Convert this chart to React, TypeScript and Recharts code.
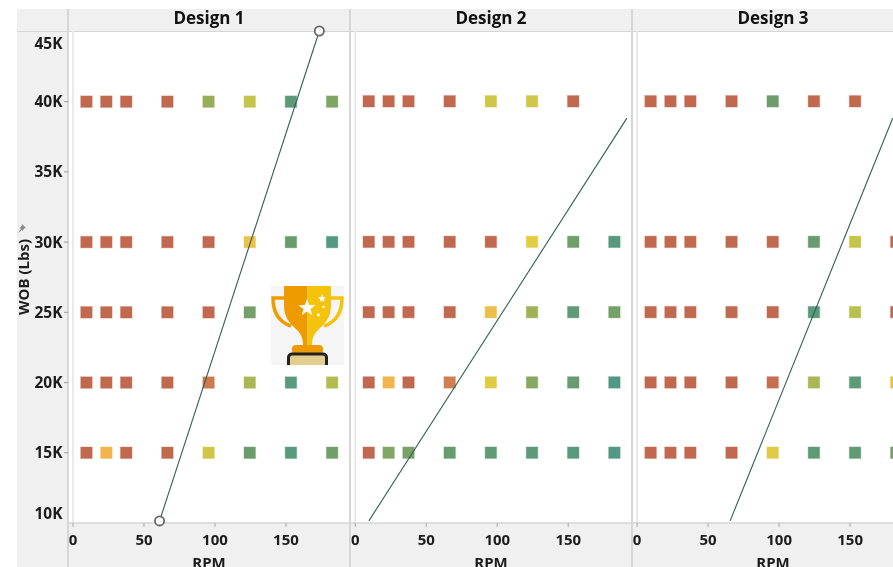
import { ScatterChart, Scatter, XAxis, YAxis, ReferenceLine } from "recharts";

const rpmValues = [9.5, 23.5, 37.5, 66.5, 95.5, 124.5, 153.5, 182.5];
const wobLevels = [40000, 30000, 25000, 20000, 15000];
const rpmTicks = [0, 50, 100, 150];
const wobTicks = [10000, 15000, 20000, 25000, 30000, 35000, 40000, 45000];
const designNames = ["Design 1", "Design 2", "Design 3"];

// score per wob level (rows) and rpm (columns), null = no test run
const design1Scores = [
  [0, 0, 0, 0, 55, 42, 88, 65],
  [0, 0, 0, 0, 0, 29, 76, 97],
  [0, 0, 0, 0, 0, 70, 88, 75],
  [0, 0, 0, 0, 10, 50, 92, 47],
  [0, 25, 0, 0, 39, 76, 90, 72],
];
const design2Scores = [
  [0, 0, 0, 0, 39, 39, 0, null],
  [0, 0, 0, 0, 0, 33, 72, 95],
  [0, 0, 0, 0, 28, 53, 84, 70],
  [0, 25, 0, 12, 34, 62, 78, 100],
  [0, 64, 68, 78, 84, 88, 93, 100],
];
const design3Scores = [
  [0, 0, 0, 0, 74, 0, 0, null],
  [0, 0, 0, 0, 0, 77, 42, 0],
  [0, 0, 0, 0, 0, 92, 45, 0],
  [0, 0, 0, 0, 3, 50, 85, 29],
  [0, 0, 0, 0, 34, 85, 83, 70],
];

const design1Limit = [
  { rpm: 61, wob: 10150 },
  { rpm: 173.5, wob: 45030 },
];
const design2Limit = [
  { rpm: 9.6, wob: 10150 },
  { rpm: 191.3, wob: 38800 },
];
const design3Limit = [
  { rpm: 65.5, wob: 10150 },
  { rpm: 180, wob: 38800 },
];

const SCORE_STOPS: [number, number[]][] = [
  [0, [193, 105, 79]],
  [12, [207, 127, 80]],
  [25, [242, 181, 77]],
  [33, [227, 204, 68]],
  [42, [196, 197, 76]],
  [55, [152, 174, 90]],
  [65, [127, 165, 101]],
  [75, [106, 156, 108]],
  [88, [92, 154, 122]],
  [100, [82, 152, 132]],
];

function scoreColor(score: number) {
  for (let i = 1; i < SCORE_STOPS.length; i++) {
    const [hi, hiC] = SCORE_STOPS[i];
    const [lo, loC] = SCORE_STOPS[i - 1];
    if (score <= hi) {
      const t = (score - lo) / (hi - lo);
      const c = loC.map((v, k) => Math.round(v + (hiC[k] - v) * t));
      return `rgb(${c[0]},${c[1]},${c[2]})`;
    }
  }
  return "rgb(82,152,132)";
}

function buildPoints(scores: (number | null)[][]) {
  const points: { rpm: number; wob: number; score: number }[] = [];
  scores.forEach((row, r) =>
    row.forEach((score, c) => {
      if (score !== null) points.push({ rpm: rpmValues[c], wob: wobLevels[r], score });
    })
  );
  return points;
}

const FONT = "'Open Sans', sans-serif";
const BAND = "#f0f0f0";
const RULE = "#d6d6d6";
const TEXT = "#1c1c1c";
const LINE_COLOR = "#2f5f55";
const PANEL_W = 282;
const CHART_H = 590;

function SquareMark(props: any) {
  const { cx, cy, payload } = props;
  const fill = scoreColor(payload.score);
  return (
    <rect x={cx - 5.75} y={cy - 5.75} width={11.5} height={11.5} fill={fill} stroke={fill} strokeOpacity={0.3} strokeWidth={1.2} />
  );
}

function HollowEnd(props: any) {
  const { cx, cy } = props;
  return <circle cx={cx} cy={cy} r={4.6} fill="#fff" stroke="#666" strokeWidth={1.8} />;
}

function NoMark() {
  return <g />;
}

function WobTick(props: any) {
  const { y, payload } = props;
  const v = payload.value;
  const shift = v === 45000 ? 12 : v === 10000 ? -10 : 0;
  return (
    <g>
      {shift === 0 && <line x1={64} x2={68} y1={y} y2={y} stroke="#999" />}
      <text x={62.5} y={y + shift + 5.6} textAnchor="end" fontFamily={FONT} fontSize={15.5} fontWeight={700} fill={TEXT}>
        {`${v / 1000}K`}
      </text>
    </g>
  );
}

function Panel({
  scores,
  limit,
  left,
  showWob,
  markEnds,
  domain,
}: {
  scores: (number | null)[][];
  limit: { rpm: number; wob: number }[];
  left: number;
  showWob: boolean;
  markEnds: boolean;
  domain: [number, number];
}) {
  const axisW = showWob ? 68 : 0;
  return (
    <div style={{ position: "absolute", left: left - axisW, top: 0 }}>
      <ScatterChart
        width={PANEL_W + axisW}
        height={CHART_H}
        margin={{ top: 31, right: 0, bottom: 0, left: 0 }}
      >
        <XAxis
          type="number"
          dataKey="rpm"
          domain={domain}
          ticks={rpmTicks}
          height={67}
          tickSize={4}
          tickMargin={7}
          interval={0}
          stroke="#aaa"
          axisLine={{ stroke: RULE, strokeWidth: 1.5 }}
          tick={{ fontFamily: FONT, fontSize: 15, fontWeight: 700, fill: TEXT }}
          label={{ value: "RPM", position: "insideBottom", offset: 22, fontFamily: FONT, fontSize: 15, fontWeight: 700, fill: TEXT }}
        />
        <YAxis
          type="number"
          dataKey="wob"
          domain={[10000, 45000]}
          ticks={wobTicks}
          hide={!showWob}
          width={axisW}
          interval={0}
          axisLine={false}
          tickLine={false}
          tick={<WobTick />}
          label={{ value: "WOB (Lbs)", angle: -90, position: "insideLeft", offset: 24, dy: 38, fontFamily: FONT, fontSize: 15, fontWeight: 700, fill: TEXT }}
        />
        <ReferenceLine x={0} stroke="#e6e6e6" strokeWidth={1.6} />
        <Scatter data={buildPoints(scores)} shape={<SquareMark />} isAnimationActive={false} />
        <Scatter
          data={limit}
          line={{ stroke: LINE_COLOR, strokeWidth: 1.1 }}
          shape={markEnds ? <HollowEnd /> : <NoMark />}
          isAnimationActive={false}
        />
      </ScatterChart>
    </div>
  );
}

function Trophy() {
  return (
    <svg width={73} height={79} viewBox="0 0 73 79" style={{ position: "absolute", left: 271, top: 286 }}>
      <rect width={73} height={79} fill="#f5f5f5" />
      <path d="M14 12 H2 C2 26 8 36 20 40" fill="none" stroke="#ee9b00" strokeWidth={3.5} />
      <path d="M59 12 H71 C71 26 65 36 53 40" fill="none" stroke="#f5c20c" strokeWidth={3.5} />
      <path d="M13 0 H36.5 V59 H32 C32 52 30 48 26 44 C18 37 13 30 13 20 Z" fill="#ee9b00" />
      <path d="M60 0 H36.5 V59 H41 C41 52 43 48 47 44 C55 37 60 30 60 20 Z" fill="#f5c20c" />
      <rect x={21} y={59} width={31} height={10} rx={4} fill="#ee9b00" />
      <rect x={17.5} y={68} width={38} height={14} rx={3.5} fill="#e2cf8f" stroke="#222" strokeWidth={3} />
      <path
        d="M36 13 L38.2 19 L44.5 19.2 L39.5 23.1 L41.2 29.2 L36 25.6 L30.8 29.2 L32.5 23.1 L27.5 19.2 L33.8 19 Z"
        fill="#fff"
      />
      <path d="M51 8 L52 11 L55 11.5 L52.7 13.3 L53.5 16 L51 14.5 L48.5 16 L49.3 13.3 L47 11.5 L50 11 Z" fill="#fff" />
      <circle cx={52.5} cy={21} r={1.2} fill="#fff" />
      <circle cx={47.5} cy={29} r={1.4} fill="#fff" />
    </svg>
  );
}

const panelLefts = [68, 350, 632];

export default function App() {
  return (
    <div style={{ position: "absolute", left: 0, top: 0, width: 893, height: 567, overflow: "hidden", background: "#fff", filter: "blur(0.3px)" }}>
      <div style={{ position: "absolute", left: 17, top: 9, width: 876, height: 23, background: BAND, borderBottom: `1.5px solid ${RULE}`, boxSizing: "border-box" }} />
      <div style={{ position: "absolute", left: 17, top: 32, width: 51, height: 491, background: BAND }} />
      <div style={{ position: "absolute", left: 17, top: 523, width: 876, height: 44, background: BAND }} />
      {panelLefts.map((x) => (
        <div key={x} style={{ position: "absolute", left: x - 0.75, top: 9, width: 1.5, height: 558, background: RULE }} />
      ))}
      {designNames.map((name, i) => (
        <div
          key={name}
          style={{
            position: "absolute",
            left: panelLefts[i],
            top: 7,
            width: PANEL_W,
            textAlign: "center",
            fontFamily: FONT,
            fontSize: 17,
            fontWeight: 700,
            lineHeight: "22px",
            color: "#111",
          }}
        >
          {name}
        </div>
      ))}
      <Panel scores={design1Scores} limit={design1Limit} left={68} showWob markEnds domain={[-3.5, 195.1]} />
      <Panel scores={design2Scores} limit={design2Limit} left={350} showWob={false} markEnds={false} domain={[-3.7, 194.9]} />
      <Panel scores={design3Scores} limit={design3Limit} left={632} showWob={false} markEnds={false} domain={[-3.6, 195]} />
      <svg width={9} height={10} viewBox="0 0 9 10" style={{ position: "absolute", left: 17, top: 224 }}>
        <path d="M5 0 L9 4 L7 4.6 L5.6 7 L2.8 4.2 L4.6 2 Z M3.4 5.4 L1 9 L4.4 6.4 Z" fill="#8a8a8a" />
      </svg>
      <Trophy />
    </div>
  );
}
